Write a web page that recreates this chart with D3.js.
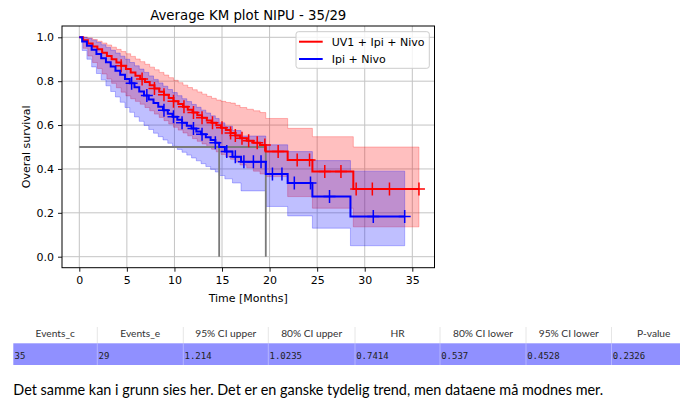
<!DOCTYPE html>
<html><head><meta charset="utf-8">
<script src="https://cdn.jsdelivr.net/npm/d3@7"></script>
<style>body{margin:0;background:#fff} svg{display:block}</style>
</head><body>
<svg id="c" width="690" height="401"></svg>
<script>
// ---- data ----
const titleText = "Average KM plot NIPU - 35/29";
const xLabelText = "Time [Months]";
const yLabelText = "Overal survival";
const legendLabels = ["UV1 + Ipi + Nivo", "Ipi + Nivo"];

const redTimes = [0,0.4,0.9,1.4,1.9,2.4,2.9,3.4,3.9,4.4,4.9,5.4,5.9,6.4,6.9,7.4,7.9,8.4,8.9,9.4,9.9,10.4,10.9,11.4,11.9,12.4,12.9,13.4,13.9,14.4,14.9,15.4,15.9,16.4,16.9,17.6,18.3,19.0,19.6,21.9,24.5,28.8];
const redSurv  = [1.0,0.986,0.972,0.958,0.945,0.930,0.915,0.900,0.885,0.870,0.855,0.840,0.825,0.810,0.796,0.781,0.767,0.752,0.738,0.723,0.709,0.696,0.683,0.670,0.657,0.645,0.633,0.621,0.610,0.599,0.588,0.577,0.564,0.552,0.540,0.529,0.519,0.509,0.479,0.441,0.388,0.309];
const redUpper = [1.0,1.0,0.997,0.99,0.982,0.974,0.965,0.955,0.945,0.935,0.925,0.913,0.901,0.889,0.877,0.864,0.852,0.84,0.828,0.816,0.804,0.793,0.782,0.771,0.761,0.751,0.741,0.731,0.722,0.714,0.708,0.703,0.70,0.69,0.68,0.672,0.665,0.657,0.63,0.585,0.547,0.50];
const redLower = [1.0,0.95,0.915,0.885,0.858,0.833,0.81,0.79,0.77,0.75,0.733,0.72,0.708,0.695,0.68,0.665,0.65,0.635,0.62,0.605,0.59,0.577,0.564,0.551,0.538,0.526,0.514,0.502,0.49,0.478,0.466,0.455,0.444,0.432,0.418,0.405,0.39,0.377,0.365,0.274,0.221,0.136];
const redEnd = 35.7;
const redCensor = [4.4,6.6,7.9,8.9,9.9,11.0,12.0,12.9,14.0,15.0,15.9,16.4,17.1,17.8,18.7,19.5,20.9,22.9,24.2,25.8,27.5,29.1,30.8,32.6,35.7];

const blueTimes = [0,0.3,0.8,1.3,1.8,2.3,2.8,3.3,3.8,4.3,4.8,5.3,5.8,6.3,6.8,7.3,7.8,8.3,8.8,9.3,9.8,10.3,10.8,11.3,11.8,12.3,12.8,13.3,13.8,14.3,14.7,15.3,16.1,17.0,19.6,21.9,24.5,28.5];
const blueSurv  = [1.0,0.981,0.962,0.943,0.924,0.905,0.886,0.867,0.848,0.829,0.81,0.791,0.772,0.753,0.735,0.717,0.70,0.683,0.667,0.652,0.638,0.624,0.61,0.597,0.584,0.571,0.558,0.545,0.532,0.519,0.50,0.479,0.456,0.433,0.377,0.336,0.274,0.183];
const blueUpper = [1.0,1.0,0.995,0.987,0.977,0.966,0.954,0.941,0.928,0.914,0.90,0.885,0.87,0.855,0.84,0.824,0.808,0.792,0.777,0.762,0.748,0.734,0.72,0.707,0.694,0.681,0.668,0.655,0.642,0.63,0.61,0.595,0.575,0.55,0.51,0.479,0.438,0.39];
const blueLower = [1.0,0.94,0.9,0.865,0.835,0.806,0.779,0.753,0.728,0.704,0.68,0.658,0.637,0.617,0.598,0.58,0.563,0.547,0.532,0.517,0.503,0.489,0.476,0.463,0.45,0.437,0.424,0.411,0.398,0.386,0.37,0.355,0.336,0.30,0.229,0.186,0.13,0.05];
const blueEnd = 34.2;
const blueCensor = [5.5,7.1,8.9,9.9,10.8,12.0,12.9,14.3,15.5,16.4,17.3,18.3,19.1,20.3,21.3,22.6,24.3,26.3,30.9,34.2];

const medianLevel = 0.5;
const medianTimes = [14.7, 19.6];

const xTicks = [0,5,10,15,20,25,30,35];
const yTicks = [0.0,0.2,0.4,0.6,0.8,1.0];

const tableHeaders = ["Events_c","Events_e","95% CI upper","80% CI upper","HR","80% CI lower","95% CI lower","P-value"];
const tableValues  = ["35","29","1.214","1.0235","0.7414","0.537","0.4528","0.2326"];
const commentText = "Det samme kan i grunn sies her. Det er en ganske tydelig trend, men dataene må modnes mer.";

// ---- layout ----
const svg = d3.select("#c");
const axL = 62, axR = 434.5, axT = 26, axB = 267.7;
const x = d3.scaleLinear().domain([0, 35]).range([79.3, 412.3]);
const y = d3.scaleLinear().domain([0, 1]).range([256.7, 37.3]);
const RED = "#ff0000", BLUE = "#0000ff";
const FONT = "DejaVu Sans";

svg.append("defs").append("clipPath").attr("id","clip")
  .append("rect").attr("x",axL).attr("y",axT).attr("width",axR-axL).attr("height",axB-axT);

const plot = svg.append("g").attr("clip-path","url(#clip)");

// grid
plot.append("g").selectAll("line").data(xTicks).join("line")
  .attr("x1",d=>x(d)).attr("x2",d=>x(d)).attr("y1",axT).attr("y2",axB)
  .attr("stroke","#c4c4c4").attr("stroke-width",1);
plot.append("g").selectAll("line").data(yTicks).join("line")
  .attr("x1",axL).attr("x2",axR).attr("y1",d=>y(d)).attr("y2",d=>y(d))
  .attr("stroke","#c4c4c4").attr("stroke-width",1);

function series(times, surv, up, lo, end){
  const pts = times.map((t,i)=>({t, s:surv[i], hi:up[i], lo:lo[i]}));
  const last = pts[pts.length-1];
  pts.push({t:end, s:last.s, hi:last.hi, lo:last.lo});
  return pts;
}
const redData = series(redTimes, redSurv, redUpper, redLower, redEnd);
const blueData = series(blueTimes, blueSurv, blueUpper, blueLower, blueEnd);

const area = d3.area().curve(d3.curveStepAfter).x(d=>x(d.t)).y0(d=>y(d.lo)).y1(d=>y(d.hi));
const line = d3.line().curve(d3.curveStepAfter).x(d=>x(d.t)).y(d=>y(d.s));

[[redData,RED],[blueData,BLUE]].forEach(([data,col])=>{
  plot.append("path").attr("d",area(data)).attr("fill",col).attr("fill-opacity",0.25)
    .attr("stroke",col).attr("stroke-opacity",0.25).attr("stroke-width",1);
});

// median guide lines
const mg = plot.append("g").attr("stroke","#7a7a7a").attr("stroke-width",1.8);
mg.append("line").attr("x1",x(0)).attr("x2",x(d3.max(medianTimes))).attr("y1",y(medianLevel)).attr("y2",y(medianLevel));
mg.selectAll("line.v").data(medianTimes).join("line").attr("class","v")
  .attr("x1",d=>x(d)).attr("x2",d=>x(d)).attr("y1",y(0)).attr("y2",y(medianLevel));

function survAt(times, surv, t){
  let v = surv[0];
  for (let i=0;i<times.length;i++){ if (times[i] <= t) v = surv[i]; }
  return v;
}

[[redData,RED,redCensor,redTimes,redSurv],[blueData,BLUE,blueCensor,blueTimes,blueSurv]].forEach(([data,col,cens,tt,ss])=>{
  plot.append("path").attr("d",line(data)).attr("fill","none").attr("stroke",col).attr("stroke-width",2);
  const g = plot.append("g").attr("stroke",col).attr("stroke-width",1.5);
  cens.forEach(c=>{
    const cx = x(c), cy = y(survAt(tt,ss,c));
    g.append("line").attr("x1",cx-6).attr("x2",cx+6).attr("y1",cy).attr("y2",cy);
    g.append("line").attr("x1",cx).attr("x2",cx).attr("y1",cy-6.5).attr("y2",cy+6.5);
  });
});

// axes
const xAxis = svg.append("g").attr("transform",`translate(0,${axB})`)
  .call(d3.axisBottom(x).tickValues(xTicks).tickFormat(d3.format("d")).tickSize(4).tickPadding(5));
const yAxis = svg.append("g").attr("transform",`translate(${axL},0)`)
  .call(d3.axisLeft(y).tickValues(yTicks).tickFormat(d3.format(".1f")).tickSize(4).tickPadding(4));
[xAxis,yAxis].forEach(a=>{
  a.select(".domain").remove();
  a.selectAll("text").attr("font-family",FONT).attr("font-size",11).attr("fill","#000");
  a.selectAll("line").attr("stroke","#000").attr("stroke-width",0.9);
});
svg.append("rect").attr("x",axL).attr("y",axT).attr("width",axR-axL).attr("height",axB-axT)
  .attr("fill","none").attr("stroke","#000").attr("stroke-width",1);

// title & labels
svg.append("text").attr("x",(axL+axR)/2).attr("y",20).attr("text-anchor","middle")
  .attr("font-family",FONT).attr("font-size",13.3).text(titleText);
svg.append("text").attr("x",(axL+axR)/2).attr("y",302).attr("text-anchor","middle")
  .attr("font-family",FONT).attr("font-size",11).text(xLabelText);
svg.append("text").attr("transform",`translate(30,${(axT+axB)/2}) rotate(-90)`).attr("text-anchor","middle")
  .attr("font-family",FONT).attr("font-size",11).text(yLabelText);

// legend
const lg = svg.append("g");
lg.append("rect").attr("x",296).attr("y",31.7).attr("width",133.3).attr("height",36.6).attr("rx",2.5)
  .attr("fill","#fff").attr("fill-opacity",0.8).attr("stroke","#cccccc").attr("stroke-width",1);
[[RED,41.7],[BLUE,59]].forEach(([col,ly],i)=>{
  lg.append("line").attr("x1",299).attr("x2",322.7).attr("y1",ly).attr("y2",ly).attr("stroke",col).attr("stroke-width",2);
  lg.append("text").attr("x",331.7).attr("y",ly).attr("dy","0.36em").attr("font-family",FONT).attr("font-size",11)
    .text(legendLabels[i]);
});

// table
const colX = [13.3,97.3,183.3,268.3,355,440,526,611.5,696];
const tg = svg.append("g");
tg.append("rect").attr("x",13.3).attr("y",343.3).attr("width",680-13.3).attr("height",21.7).attr("fill","#9090ff");
for (let i=1;i<tableHeaders.length;i++){
  tg.append("line").attr("x1",colX[i]).attr("x2",colX[i]).attr("y1",327).attr("y2",343.3).attr("stroke","#e6e6e6").attr("stroke-width",1);
  tg.append("line").attr("x1",colX[i]).attr("x2",colX[i]).attr("y1",343.3).attr("y2",365).attr("stroke","#b4b4ff").attr("stroke-width",1);
}
tableHeaders.forEach((h,i)=>{
  tg.append("text").attr("x",(colX[i]+colX[i+1])/2).attr("y",337.3).attr("text-anchor","middle")
    .attr("font-family","Lato").attr("font-size",10.2).attr("fill","#333").text(h);
});
tableValues.forEach((v,i)=>{
  tg.append("text").attr("x",colX[i]+1.2).attr("y",358.7)
    .attr("font-family","DejaVu Sans Mono").attr("font-size",9).attr("fill","#222").text(v);
});

svg.append("text").attr("x",13.3).attr("y",395).attr("font-family","Lato").attr("font-size",14.4)
  .attr("fill","#000").text(commentText);
</script>
</body></html>
